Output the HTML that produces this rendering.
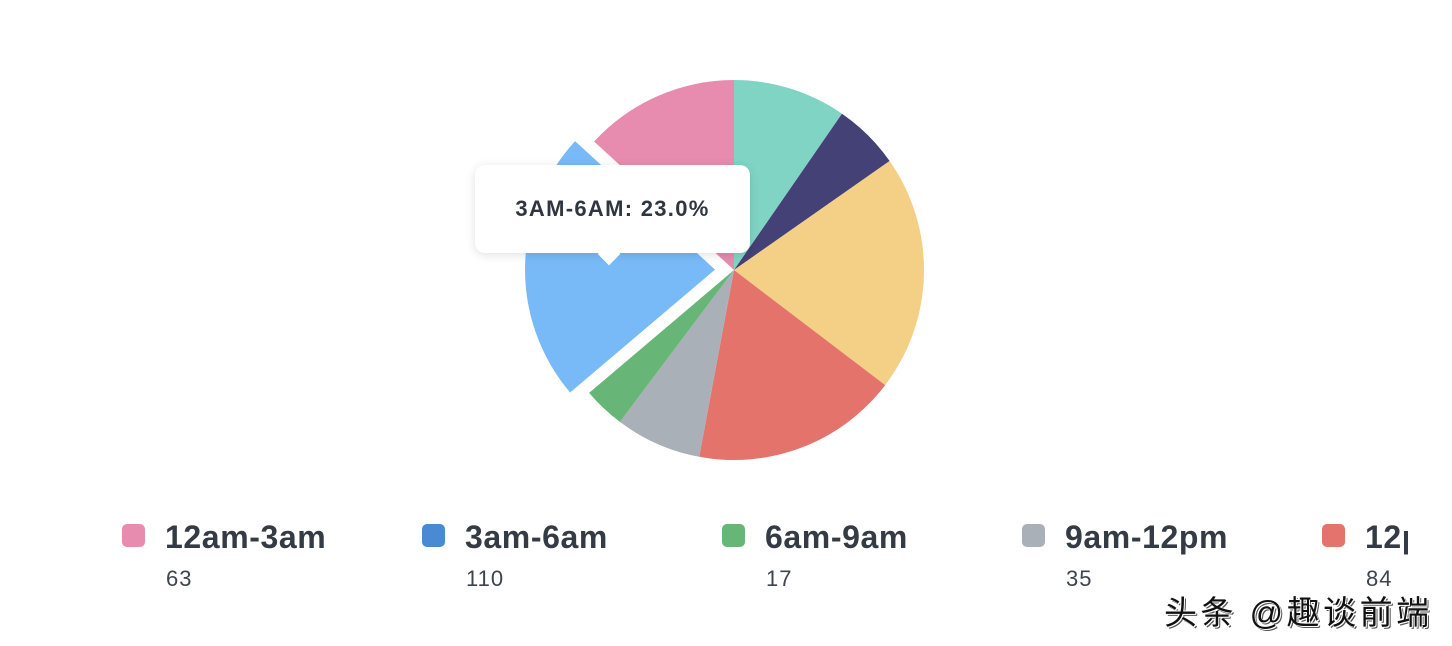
<!DOCTYPE html>
<html><head><meta charset="utf-8"><style>
html,body{margin:0;padding:0;background:#fff;width:1452px;height:646px;overflow:hidden;position:relative;font-family:"Liberation Sans","Noto Sans CJK SC",sans-serif;}
.tip{position:absolute;left:475px;top:165px;width:275px;height:88px;background:#fff;border-radius:10px;box-shadow:0 2px 10px rgba(0,0,0,0.12);}
.tip span{position:absolute;left:0;right:0;top:31px;text-align:center;font-size:22px;font-weight:bold;color:#2f3640;letter-spacing:1.3px;}
.arrow{position:absolute;left:601px;top:246px;width:16px;height:16px;background:#fff;transform:rotate(45deg);}
.clip{position:absolute;left:0;top:500px;width:1408px;height:110px;overflow:hidden;}
.item{position:absolute;top:0;}
.sq{position:absolute;left:0;top:24px;width:23px;height:23px;border-radius:5px;}
.lab{position:absolute;left:43px;top:19px;font-size:32px;font-weight:bold;color:#343b44;white-space:nowrap;letter-spacing:0.6px;}
.val{position:absolute;left:44px;top:66px;font-size:22px;color:#3d444c;letter-spacing:1px;}
.wm{position:absolute;left:1164px;top:586px;font-size:33px;letter-spacing:3.5px;color:#111;white-space:nowrap;text-shadow:1px 1px 0 #fff,-1px -1px 0 #fff,2px 2px 0 #555;}
</style></head><body>
<svg width="1452" height="646" style="position:absolute;left:0;top:0">
<path d="M734,270 L734,80 A190,190 0 0 1 842.0,113.7 Z" fill="#80d4c4"/>
<path d="M734,270 L842.0,113.7 A190,190 0 0 1 889.6,161.0 Z" fill="#434175"/>
<path d="M734,270 L889.6,161.0 A190,190 0 0 1 885.2,385.1 Z" fill="#f3d086"/>
<path d="M734,270 L885.2,385.1 A190,190 0 0 1 699.2,456.8 Z" fill="#e4736c"/>
<path d="M734,270 L699.2,456.8 A190,190 0 0 1 619.9,421.9 Z" fill="#a9b0b7"/>
<path d="M734,270 L619.9,421.9 A190,190 0 0 1 589.1,392.9 Z" fill="#68b677"/>
<path d="M734,270 L594.1,141.5 A190,190 0 0 1 734,80 Z" fill="#e78cae"/>
<g transform="translate(-19,-0.4)"><path d="M734,270 L589.1,392.9 A190,190 0 0 1 594.1,141.5 Z" fill="#78baf8"/></g>
</svg>
<div class="tip"><span>3AM-6AM: 23.0%</span></div>
<div class="arrow"></div>
<div class="clip">
<div class="item" style="left:122px"><div class="sq" style="background:#e78cae"></div><div class="lab">12am-3am</div><div class="val">63</div></div>
<div class="item" style="left:422px"><div class="sq" style="background:#4a89d3"></div><div class="lab">3am-6am</div><div class="val">110</div></div>
<div class="item" style="left:722px"><div class="sq" style="background:#68b677"></div><div class="lab">6am-9am</div><div class="val">17</div></div>
<div class="item" style="left:1022px"><div class="sq" style="background:#a9b0b7"></div><div class="lab">9am-12pm</div><div class="val">35</div></div>
<div class="item" style="left:1322px"><div class="sq" style="background:#e4736c"></div><div class="lab">12pm-3pm</div><div class="val">84</div></div>
</div>
<div class="wm">头条 @趣谈前端</div>
</body></html>
